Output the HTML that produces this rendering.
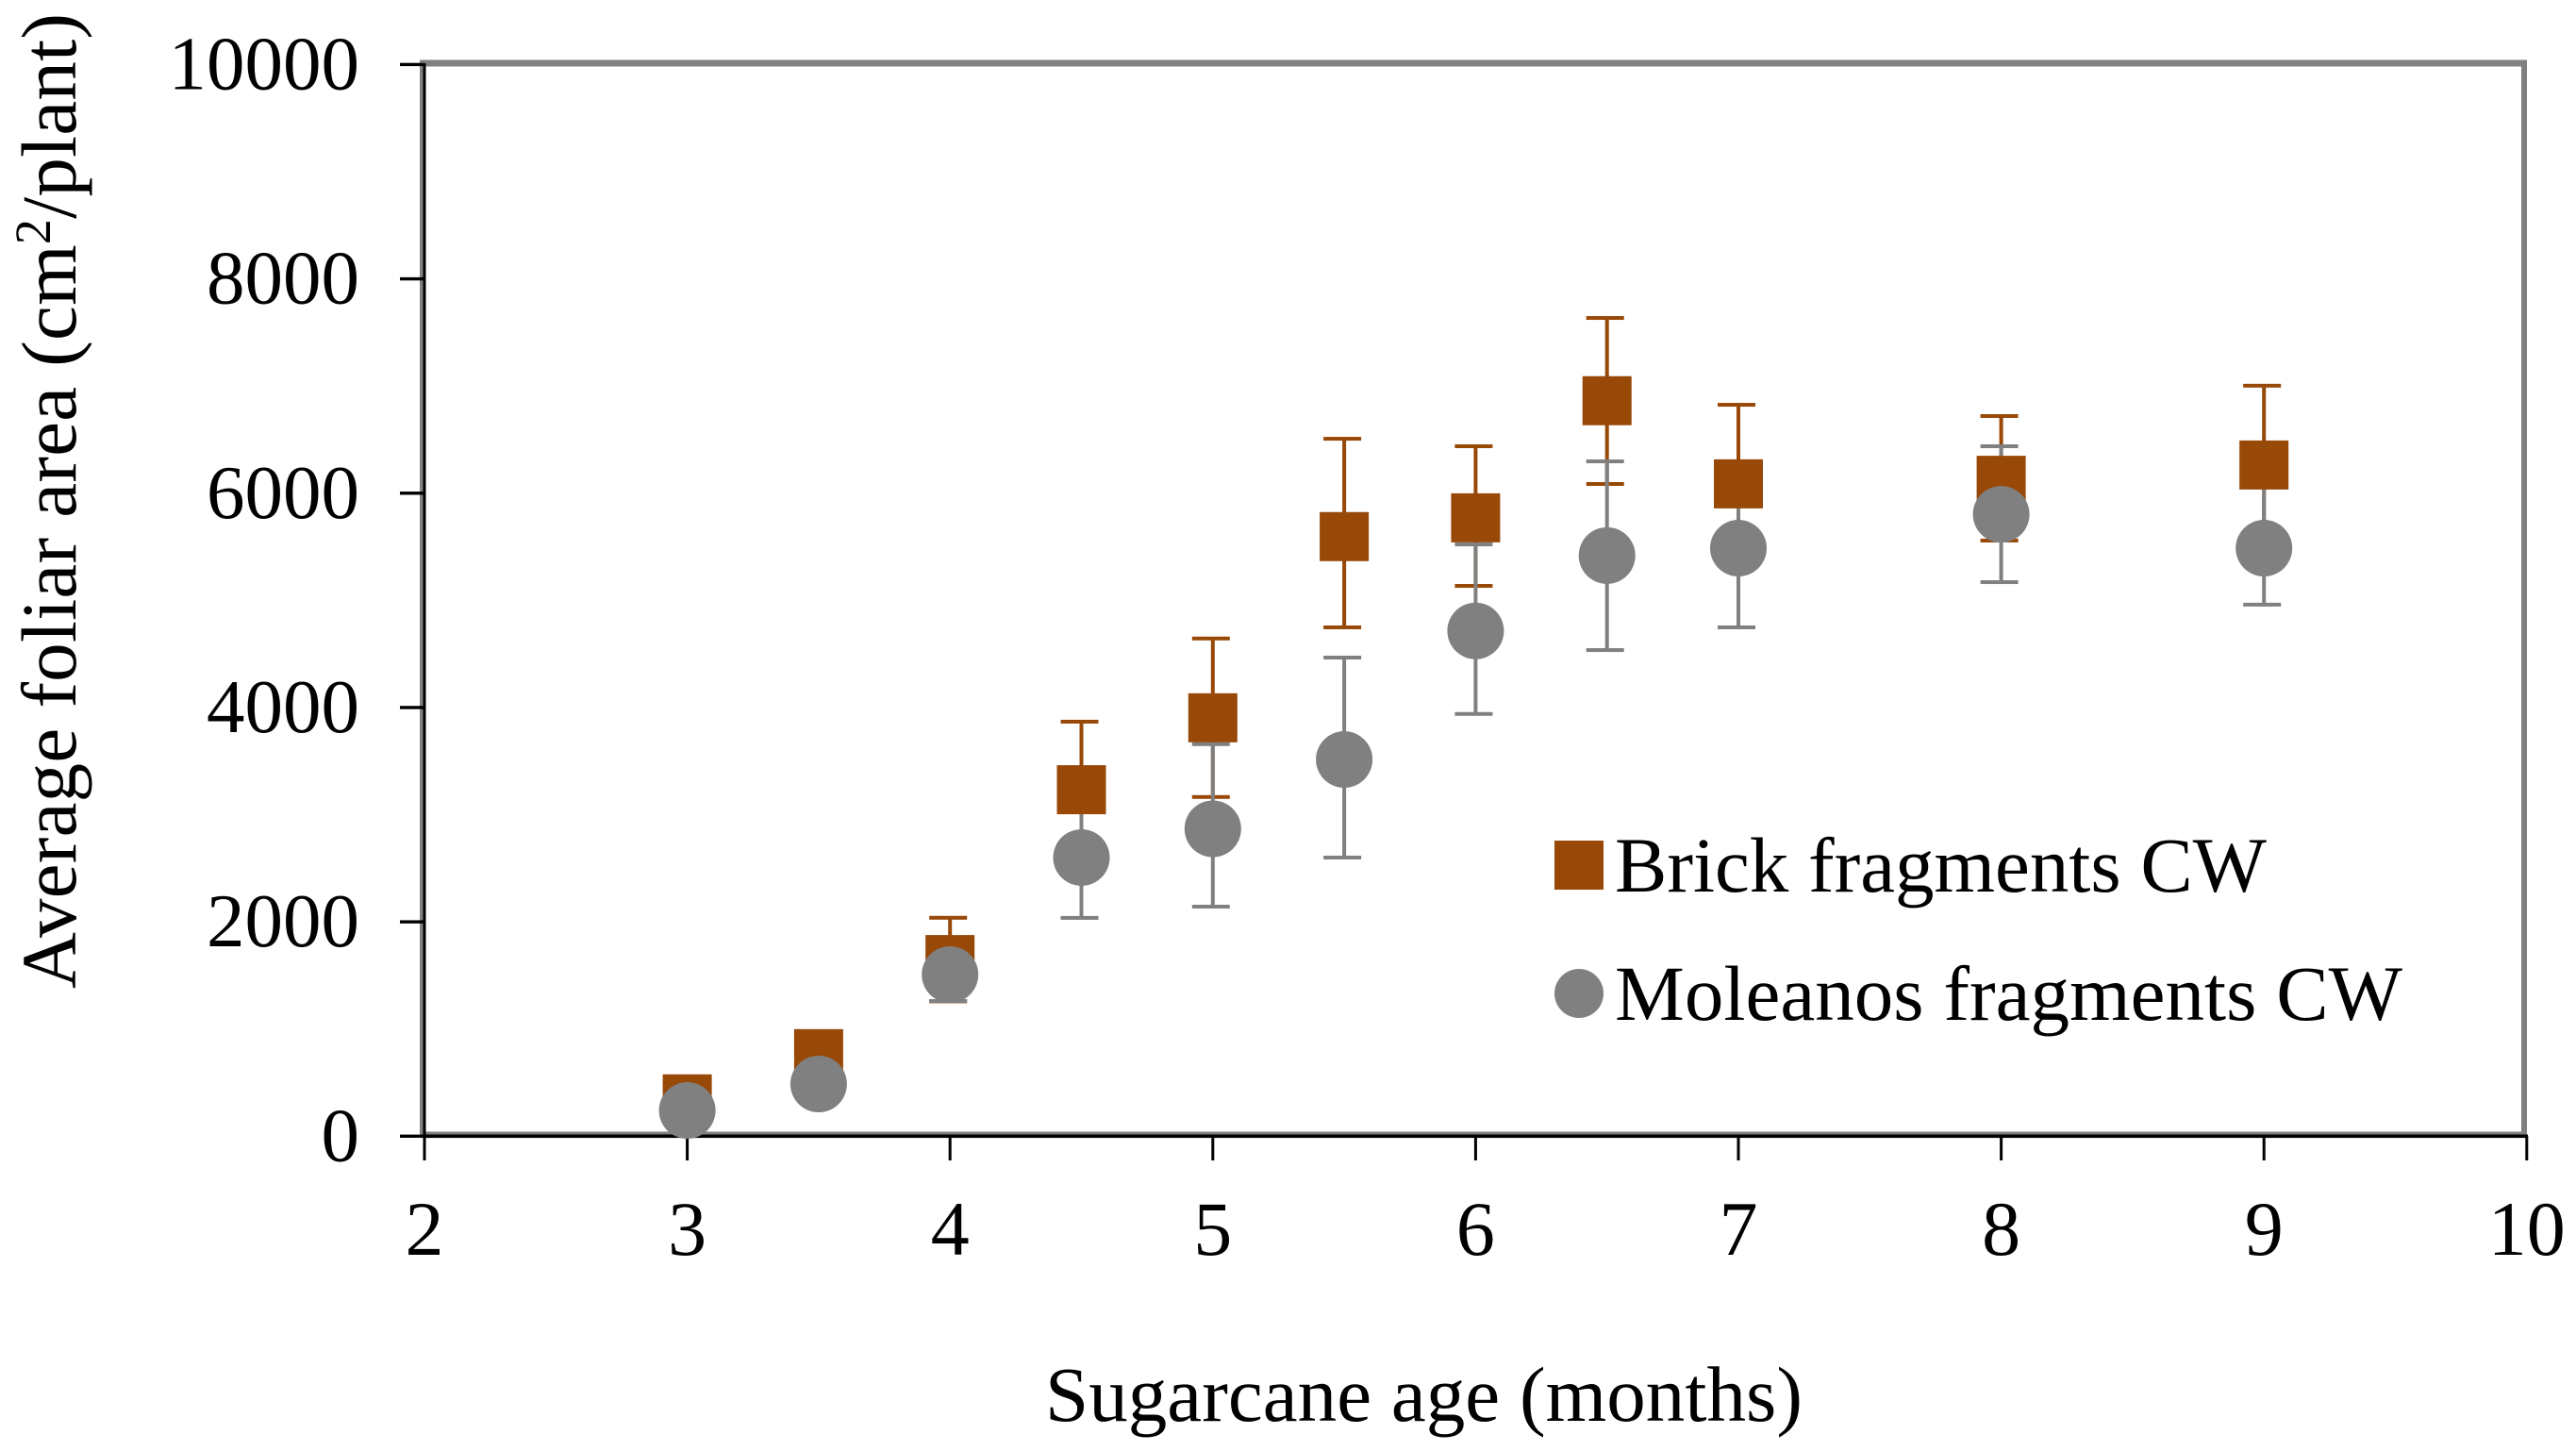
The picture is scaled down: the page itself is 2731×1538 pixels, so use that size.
<!DOCTYPE html>
<html lang="en">
<head>
<meta charset="utf-8">
<title>Average foliar area vs sugarcane age</title>
<style>
html,body{margin:0;padding:0;background:#fff;width:2731px;height:1538px;overflow:hidden}
svg{display:block;position:absolute;left:0;top:0}
text{font-family:"Liberation Serif","Times New Roman",serif;fill:#000}
</style>
</head>
<body>
<svg id="chart" xmlns="http://www.w3.org/2000/svg" width="2731" height="1538" viewBox="0 0 2731 1538">
  <rect x="0" y="0" width="2731" height="1538" fill="#ffffff"/>
  <g id="frame"></g>
  <g id="axes"></g>
  <g id="errors-brick"></g>
  <g id="errors-moleanos"></g>
  <g id="points-brick"></g>
  <g id="points-moleanos"></g>

  <text x="1108" y="1506" font-size="83" textLength="803" lengthAdjust="spacing">Sugarcane age (months)</text>
  <text transform="translate(80,1048) rotate(-90)" font-size="83" textLength="1034" lengthAdjust="spacing">Average foliar area (cm<tspan font-size="54" dy="-27">2</tspan><tspan dy="27">/plant)</tspan></text>

  <g>
    <rect x="1648" y="891" width="52" height="52" fill="#984807"/>
    <text x="1712" y="945" font-size="83" textLength="691" lengthAdjust="spacing">Brick fragments CW</text>
    <circle cx="1674" cy="1053" r="26" fill="#808080"/>
    <text x="1712" y="1081" font-size="83" textLength="835" lengthAdjust="spacing">Moleanos fragments CW</text>
  </g>
</svg>
<script>
const months = [3, 3.5, 4, 4.5, 5, 5.5, 6, 6.5, 7, 8, 9];
const brickMeans = [348, 770, 1648, 3233, 3904, 5595, 5770, 6863, 6087, 6120, 6263];
const brickUpper = [420, 880, 2038, 3868, 4644, 6508, 6438, 7635, 6825, 6720, 7003];
const brickLower = [280, 660, 1258, 2600, 3165, 4748, 5135, 6086, 5350, 5558, 5520];
const moleanosMeans = [240, 487, 1508, 2600, 2868, 3515, 4715, 5418, 5487, 5803, 5487];
const moleanosUpper = [300, 580, 1755, 3163, 3658, 4466, 5522, 6297, 6226, 6438, 6120];
const moleanosLower = [180, 400, 1261, 2037, 2142, 2600, 3940, 4536, 4748, 5170, 4960];
const xTickValues = [2, 3, 4, 5, 6, 7, 8, 9, 10];
const yTickValues = [0, 2000, 4000, 6000, 8000, 10000];

const SVGNS = 'http://www.w3.org/2000/svg';
const BROWN = '#984807';
const GREY = '#808080';

function xScale(v) { return 450 + (v - 2) * 278.6; }
function yScale(v) { return 1204.3 - v * 0.11359; }

function make(tag, parent, props) {
  const el = document.createElementNS(SVGNS, tag);
  Object.keys(props).forEach(function (k) { el.setAttribute(k, props[k]); });
  parent.appendChild(el);
  return el;
}

const frame = document.getElementById('frame');
const frameTop = make('rect', frame, { x: 447, y: 63.5, width: 2232, height: 7, fill: GREY });


const frameRight = make('rect', frame, { x: 2673, y: 63.5, width: 6, height: 1141, fill: GREY });


const frameLeft = make('rect', frame, { x: 445, y: 63.5, width: 3.5, height: 1141, fill: GREY });


const frameBottom = make('rect', frame, { x: 445, y: 1199.5, width: 2234, height: 3.5, fill: GREY });



const axes = document.getElementById('axes');
const yAxisLine = make('rect', axes, { x: 448.5, y: 67, width: 3, height: 1140, fill: '#000' });


const xAxisLine = make('rect', axes, { x: 448, y: 1202.5, width: 2232, height: 3.6, fill: '#000' });



xTickValues.forEach(function (v) {
  const px = xScale(v);
  const tick = make('rect', axes, { x: px - 1.5, y: 1204, width: 3, height: 26, fill: '#000' });
  
  
  const label = make('text', axes, { x: px, y: 1330, 'font-size': 82, 'text-anchor': 'middle' });
  
  
  label.textContent = String(v);
});

yTickValues.forEach(function (v) {
  const py = yScale(v);
  const tick = make('rect', axes, { x: 424, y: py - 1.7, width: 26, height: 3.4, fill: '#000' });
  
  
  const label = make('text', axes, { x: 381, y: py + 26, 'font-size': 81, 'text-anchor': 'end' });
  
  
  label.textContent = String(v);
});

function drawErrors(parentId, upper, lower, color) {
  const parent = document.getElementById(parentId);
  months.forEach(function (m, i) {
    const px = xScale(m);
    const top = yScale(upper[i]);
    const bottom = yScale(lower[i]);
    const stem = make('rect', parent, { x: px - 2, y: top, width: 4, height: bottom - top, fill: color });
    
    
    const capTop = make('rect', parent, { x: px - 22, y: top - 2, width: 40, height: 4, fill: color });
    
    
    const capBottom = make('rect', parent, { x: px - 22, y: bottom - 2, width: 40, height: 4, fill: color });
    
    
  });
}

drawErrors('errors-brick', brickUpper, brickLower, BROWN);
drawErrors('errors-moleanos', moleanosUpper, moleanosLower, GREY);

const brickGroup = document.getElementById('points-brick');
months.forEach(function (m, i) {
  const square = make('rect', brickGroup, { x: xScale(m) - 26, y: yScale(brickMeans[i]) - 26, width: 52, height: 52, fill: BROWN });
  
  
});

const moleanosGroup = document.getElementById('points-moleanos');
months.forEach(function (m, i) {
  const dot = make('circle', moleanosGroup, { cx: xScale(m), cy: yScale(moleanosMeans[i]), r: 30, fill: GREY });
  
  
});
</script>
</body>
</html>
